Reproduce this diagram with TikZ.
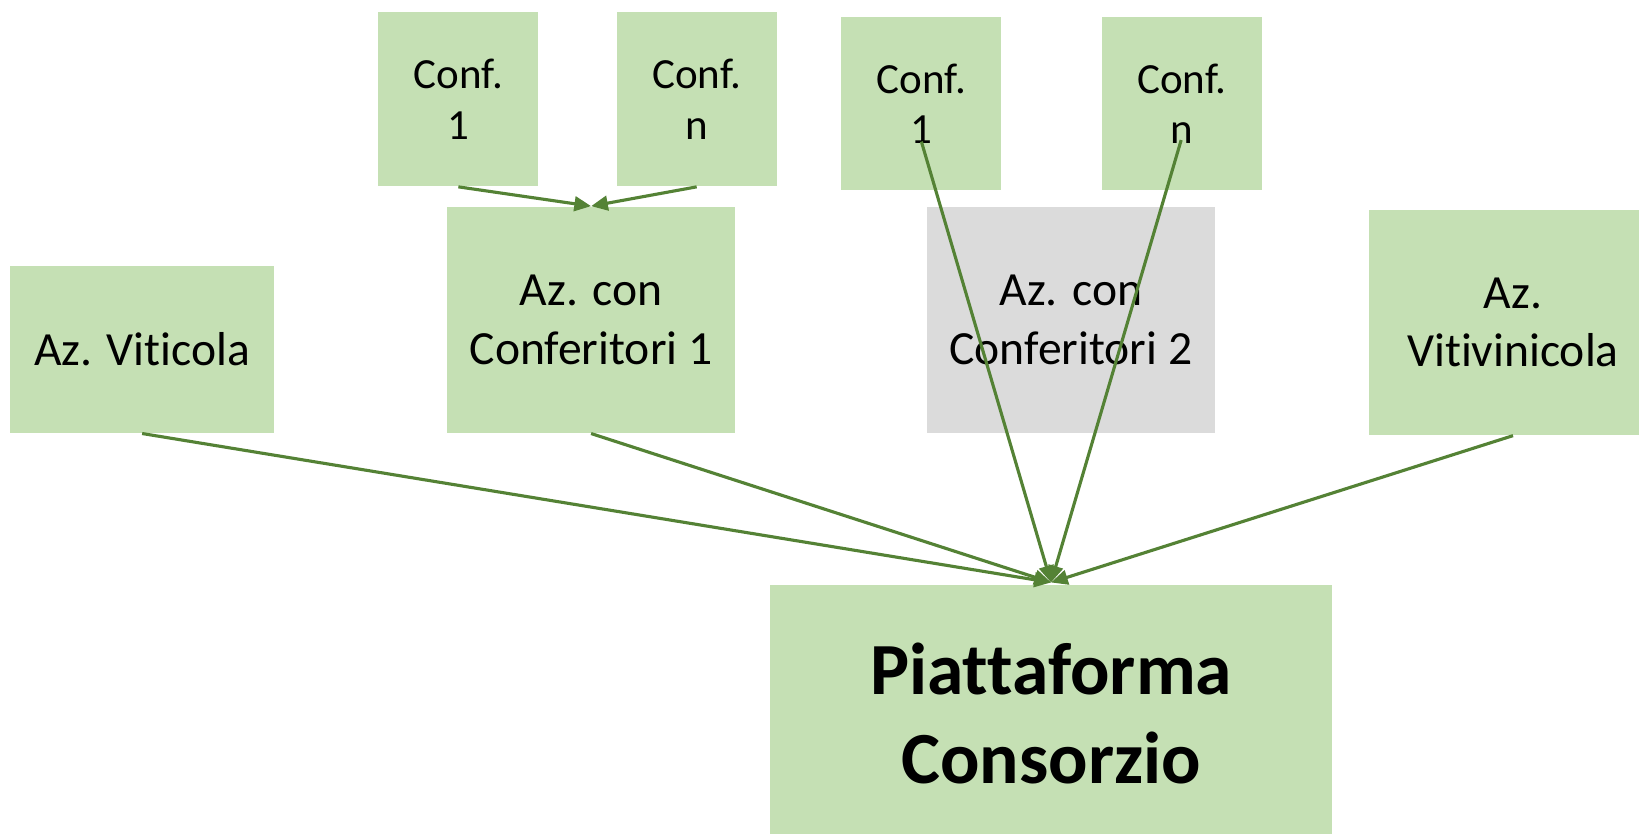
\documentclass[tikz,border=0pt]{standalone}
\usepackage{fontspec}
\setmainfont{Carlito}[Ligatures=NoCommon]
\usetikzlibrary{arrows.meta}
\definecolor{gfill}{HTML}{C5E0B4}
\definecolor{gray2}{HTML}{DBDBDB}
\definecolor{aline}{HTML}{548235}
\tikzset{
  box/.style={rectangle, fill=gfill, inner sep=0pt, align=center, text=black},
  mainf/.style={font=\fontsize{12.95}{15.9}\selectfont},
  conff/.style={font=\fontsize{11.7}{13.7}\selectfont},
  bigf/.style={font=\fontsize{20}{24.2}\selectfont\bfseries},
  confbox/.style={box, conff, minimum width=1.53cm, minimum height=1.66cm},
  azbox/.style={box, mainf, minimum width=2.75cm, minimum height=2.16cm},
  conn/.style={draw=aline, line width=0.85pt, -{Triangle[length=0.16cm, width=0.14cm]}}
}
\begin{document}
\begin{tikzpicture}[x=0.01cm, y=-0.01cm]
\useasboundingbox (0,0) rectangle (1568,797);
\node[confbox] (cfa) at (438.5,95) {Conf.\\1};
\node[confbox] (cfb) at (666.5,95) {Conf.\\n};
\node[confbox] (cfc) at (881.5,99) {Conf.\\1};
\node[confbox] (cfd) at (1130.5,99) {Conf.\\n};
\node[azbox] (az1) at (565.5,306) {Az. con\\Conferitori 1};
\node[azbox, fill=gray2] (az2) at (1024.5,306) {Az. con\\Conferitori 2};
\node[box, mainf, minimum width=2.52cm, minimum height=1.59cm] (vit) at (136,334.5) {Az. Viticola};
\node[box, mainf, minimum width=2.75cm, minimum height=2.15cm] (viv) at (1447.5,308.5) {Az.\\Vitivinicola};
\node[box, bigf, minimum width=5.37cm, minimum height=2.45cm] (pc) at (1005.5,682.5) {Piattaforma\\Consorzio};
\coordinate (cfcs) at (881.5,135.5);
\coordinate (cfds) at (1130,134);
\draw[conn] (cfa.south) -- (az1.north);
\draw[conn] (cfb.south) -- (az1.north);
\draw[conn] (vit.south) -- ([yshift=0.02cm]pc.north);
\draw[conn] (az1.south) -- ([yshift=0.02cm]pc.north);
\draw[conn] (cfcs) -- ([yshift=0.02cm]pc.north);
\draw[conn] (cfds) -- ([yshift=0.02cm]pc.north);
\draw[conn] (viv.south) -- ([yshift=0.02cm]pc.north);
\end{tikzpicture}
\end{document}
